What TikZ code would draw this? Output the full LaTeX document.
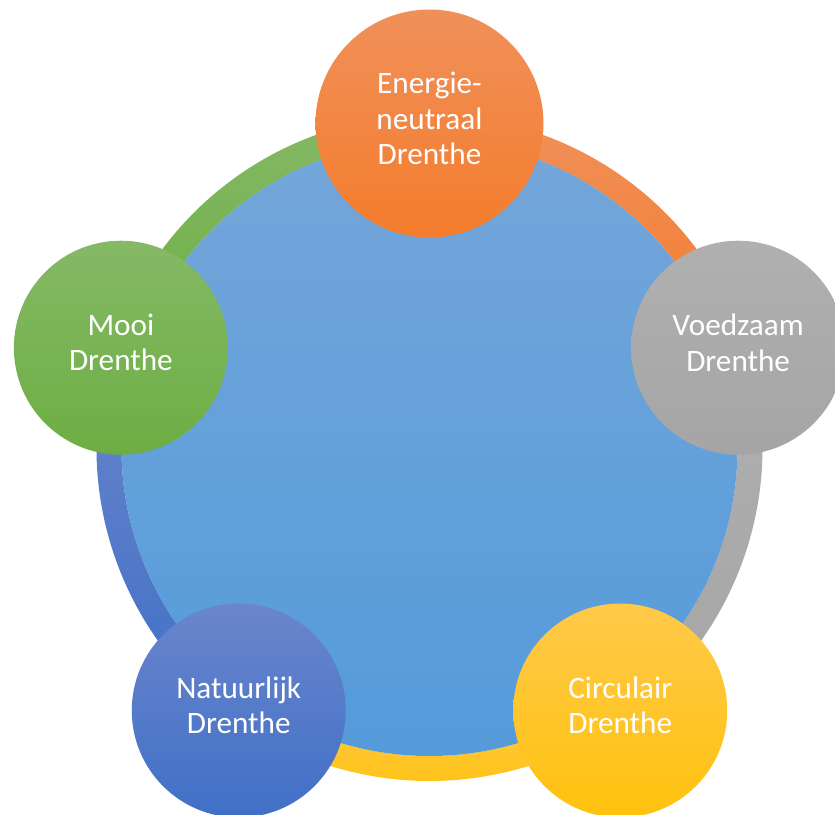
\documentclass[tikz,border=0pt]{standalone}
\usepackage{fontspec}
\setmainfont{Carlito}

\definecolor{oranjelicht}{HTML}{F0905A}
\definecolor{oranje}{HTML}{F47C2C}
\definecolor{grijslicht}{HTML}{B0B0B0}
\definecolor{grijs}{HTML}{A5A5A5}
\definecolor{geellicht}{HTML}{FFC94A}
\definecolor{geel}{HTML}{FFC20E}
\definecolor{blauwlicht}{HTML}{6A85CB}
\definecolor{blauw}{HTML}{4070C7}
\definecolor{groenlicht}{HTML}{85B966}
\definecolor{groen}{HTML}{6DAE43}
\definecolor{middenlicht}{HTML}{74A6DA}
\definecolor{midden}{HTML}{549BDA}

\begin{document}
\begin{tikzpicture}[x=1pt, y=1pt,
    bol/.style={circle, inner sep=0pt, outer sep=0pt, minimum size=214pt},
    tekst/.style={text=white, align=center, font=\fontsize{31.2}{35.3}\selectfont}]
    % Define the radii
    \def\Rbol{324.5}
    \def\Rbinnen{308}
    \def\Rbuiten{333}

    \useasboundingbox (-429.5,-366) rectangle (405.5,448);

    % Draw the ring segments
    \shade[top color=oranjelicht, bottom color=oranje] (90:\Rbuiten) arc[start angle=90, end angle=18, radius=\Rbuiten] -- (18:\Rbinnen) arc[start angle=18, end angle=90, radius=\Rbinnen] -- cycle;
    \shade[top color=grijslicht, bottom color=grijs] (18:\Rbuiten) arc[start angle=18, end angle=-54, radius=\Rbuiten] -- (-54:\Rbinnen) arc[start angle=-54, end angle=18, radius=\Rbinnen] -- cycle;
    \shade[top color=geellicht, bottom color=geel] (-54:\Rbuiten) arc[start angle=-54, end angle=-126, radius=\Rbuiten] -- (-126:\Rbinnen) arc[start angle=-126, end angle=-54, radius=\Rbinnen] -- cycle;
    \shade[top color=blauwlicht, bottom color=blauw] (-126:\Rbuiten) arc[start angle=-126, end angle=-198, radius=\Rbuiten] -- (-198:\Rbinnen) arc[start angle=-198, end angle=-126, radius=\Rbinnen] -- cycle;
    \shade[top color=groenlicht, bottom color=groen] (162:\Rbuiten) arc[start angle=162, end angle=90, radius=\Rbuiten] -- (90:\Rbinnen) arc[start angle=90, end angle=162, radius=\Rbinnen] -- cycle;

    % Draw the big circle
    \shade[top color=middenlicht, bottom color=midden] (0,0) circle[radius=\Rbinnen];

    % Draw the small circles
    \node[bol, minimum size=228pt, top color=oranjelicht, bottom color=oranje] (energie) at (90:\Rbol) {};
    \node[bol, top color=grijslicht, bottom color=grijs] (voedzaam) at (18:\Rbol) {};
    \node[bol, top color=geellicht, bottom color=geel] (circulair) at (-54:\Rbol) {};
    \node[bol, top color=blauwlicht, bottom color=blauw] (natuurlijk) at (-126:\Rbol) {};
    \node[bol, top color=groenlicht, bottom color=groen] (mooi) at (162:\Rbol) {};

    % Labels in the circles
    \node[tekst] at ([yshift=5pt]energie.center) {Energie-\\neutraal\\Drenthe};
    \node[tekst] at ([yshift=5pt]voedzaam.center) {Voedzaam\\Drenthe};
    \node[tekst] at ([yshift=5pt]circulair.center) {Circulair\\Drenthe};
    \node[tekst] at ([yshift=5pt]natuurlijk.center) {Natuurlijk\\Drenthe};
    \node[tekst] at ([yshift=5pt]mooi.center) {Mooi\\Drenthe};
\end{tikzpicture}
\end{document}
